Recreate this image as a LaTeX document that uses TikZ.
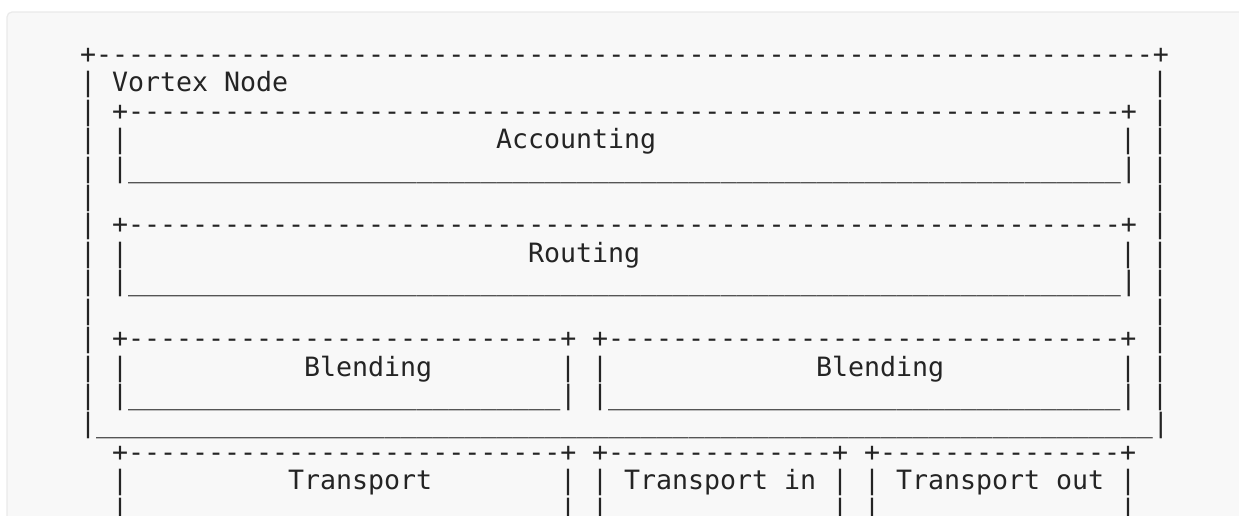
\documentclass[tikz,border=0pt]{standalone}
\usepackage{fontspec}
\setmonofont{DejaVu Sans Mono}[Ligatures=TeXOff]
\ExplSyntaxOn
\NewDocumentCommand\dsh{m}{\prg_replicate:nn{#1}{-}}
\NewDocumentCommand\usc{m}{\prg_replicate:nn{#1}{\char95\relax}}
\ExplSyntaxOff
\definecolor{inkc}{RGB}{36,36,36}
\definecolor{bgc}{RGB}{248,248,248}
\definecolor{bdc}{RGB}{234,234,234}
\tikzset{
  txt/.style={font=\ttfamily\fontsize{26.6}{28.43}\selectfont, inner sep=0pt, outer sep=0pt, anchor=base west, text=inkc}
}
\newcommand\putc[4]{\node[txt] (#1) at ({(80+16*#2)*1pt},{-(63.3+28.43*#3)*1pt}) {#4};}
\begin{document}
\begin{tikzpicture}
\useasboundingbox (0,0) rectangle (1239pt,-515pt);
\fill[white] (0,0) rectangle (1239pt,-515pt);
\begin{scope}
\clip (0,0) rectangle (1239pt,-515pt);
\draw[bdc, fill=bgc, line width=1.2pt, rounded corners=5pt] (7pt,-12pt) rectangle (1270pt,-560pt);
\end{scope}
% outer box
\putc{otop}{0}{0}{+\dsh{66}+}
\foreach \r in {1,...,12}{
  \putc{ol\r}{0}{\r}{|}
  \putc{or\r}{67}{\r}{|}
}
\putc{obot}{0}{13}{|\usc{66}|}
\putc{vn}{2}{1}{Vortex Node}
% accounting
\putc{atop}{2}{2}{+\dsh{62}+}
\putc{al}{2}{3}{|}
\putc{acc}{26}{3}{Accounting}
\putc{ar}{65}{3}{|}
\putc{abot}{2}{4}{|\usc{62}|}
% routing
\putc{rtop}{2}{6}{+\dsh{62}+}
\putc{rl}{2}{7}{|}
\putc{rout}{28}{7}{Routing}
\putc{rr}{65}{7}{|}
\putc{rbot}{2}{8}{|\usc{62}|}
% blending
\putc{btopa}{2}{10}{+\dsh{27}+}
\putc{btopb}{32}{10}{+\dsh{32}+}
\foreach \c in {2,30,32,65}{\putc{bb\c}{\c}{11}{|}}
\putc{blenda}{14}{11}{Blending}
\putc{blendb}{46}{11}{Blending}
\putc{bbota}{2}{12}{|\usc{27}|}
\putc{bbotb}{32}{12}{|\usc{32}|}
% transport
\putc{ttopa}{2}{14}{+\dsh{27}+}
\putc{ttopb}{32}{14}{+\dsh{14}+}
\putc{ttopc}{49}{14}{+\dsh{15}+}
\foreach \c in {2,30,32,47,49,65}{
  \putc{tb\c}{\c}{15}{|}
  \putc{tc\c}{\c}{16}{|}
}
\putc{tra}{13}{15}{Transport}
\putc{trin}{34}{15}{Transport in}
\putc{trout}{51}{15}{Transport out}
\end{tikzpicture}
\end{document}
